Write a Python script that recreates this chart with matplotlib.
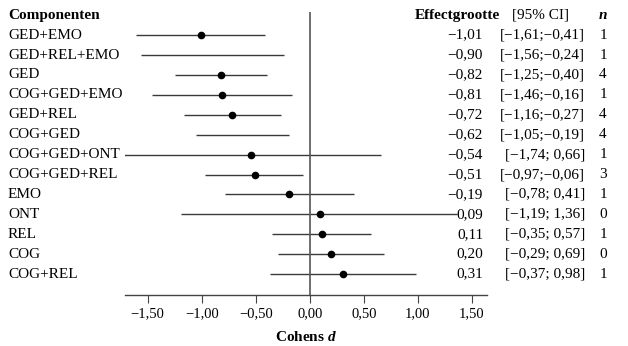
import matplotlib
matplotlib.use("Agg")
import matplotlib.pyplot as plt
from matplotlib.transforms import blended_transform_factory

components = ["GED+EMO", "GED+REL+EMO", "GED", "COG+GED+EMO", "GED+REL", "COG+GED",
              "COG+GED+ONT", "COG+GED+REL", "EMO", "ONT", "REL", "COG", "COG+REL"]
effect = [-1.01, -0.90, -0.82, -0.81, -0.72, -0.62, -0.54, -0.51, -0.19, 0.09, 0.11, 0.20, 0.31]
ci_low = [-1.61, -1.56, -1.25, -1.46, -1.16, -1.05, -1.74, -0.97, -0.78, -1.19, -0.35, -0.29, -0.37]
ci_high = [-0.41, -0.24, -0.40, -0.16, -0.27, -0.19, 0.66, -0.06, 0.41, 1.36, 0.57, 0.69, 0.98]
n_studies = [1, 1, 4, 1, 4, 4, 1, 3, 1, 0, 1, 0, 1]
show_point = [True, False, True, True, True, False, True, True, True, True, True, True, True]
xticks = [-1.5, -1.0, -0.5, 0.0, 0.5, 1.0, 1.5]

def nl(v):
    return f"{v:.2f}".replace(".", ",").replace("-", "\u2212")

plt.rcParams['font.family'] = ['Liberation Serif', 'DejaVu Serif']
plt.rcParams['mathtext.fontset'] = 'custom'
plt.rcParams['mathtext.rm'] = 'Liberation Serif'
plt.rcParams['mathtext.it'] = 'Liberation Serif:italic'
plt.rcParams['mathtext.bf'] = 'Liberation Serif:italic:bold'

W, H = 628, 346
fig = plt.figure(figsize=(W / 100, H / 100), dpi=100)
left, right = 125 / W, 487 / W
bottom, top = (H - 295) / H, (H - 12) / H
ax = fig.add_axes([left, bottom, right - left, top - bottom])
ax.set_xlim(-1.71, 1.64)
ax.set_ylim(13.05, -1.16)

rows = list(range(len(components)))
for i in rows:
    ax.plot([ci_low[i], ci_high[i]], [i, i], color="#3a3a3a", lw=1.0, solid_capstyle="butt")
    if show_point[i]:
        ax.plot(effect[i], i, "o", color="black", ms=4.5)

ax.axvline(0, color="#555555", lw=1.2)

for s in ["top", "right", "left"]:
    ax.spines[s].set_visible(False)
ax.spines["bottom"].set_color("#444444")
ax.spines["bottom"].set_linewidth(1.0)
ax.set_yticks([])
ax.set_xticks(xticks)
ax.set_xticklabels([nl(v) for v in xticks], fontsize=10.5)
ax.tick_params(axis="x", direction="out", length=6, color="#444444", pad=3)
ax.set_xlabel("Cohens $\\mathbf{d}$", fontsize=11, fontweight="bold", labelpad=7)

trans = blended_transform_factory(fig.transFigure, ax.transData)
fs = 11
hy = -1.0
fig.text(8 / W, hy, "Componenten", transform=trans, fontsize=fs, fontweight="bold", va="center", ha="left")
fig.text(500 / W, hy, "Effectgrootte", transform=trans, fontsize=fs, fontweight="bold", va="center", ha="right")
fig.text(512 / W, hy, "[95% CI]", transform=trans, fontsize=fs, va="center", ha="left")
fig.text(603 / W, hy, "n", transform=trans, fontsize=fs, fontweight="bold", style="italic", va="center", ha="center")

for i in rows:
    sep = ";" if ci_high[i] < 0 else "; "
    fig.text(8 / W, i, components[i], transform=trans, fontsize=fs, va="center", ha="left")
    fig.text(483 / W, i, nl(effect[i]), transform=trans, fontsize=fs, va="center", ha="right")
    fig.text(585 / W, i, f"[{nl(ci_low[i])}{sep}{nl(ci_high[i])}]", transform=trans, fontsize=fs, va="center", ha="right")
    fig.text(603 / W, i, str(n_studies[i]), transform=trans, fontsize=fs, va="center", ha="center")

fig.savefig("out.png", dpi=100, facecolor="white")
